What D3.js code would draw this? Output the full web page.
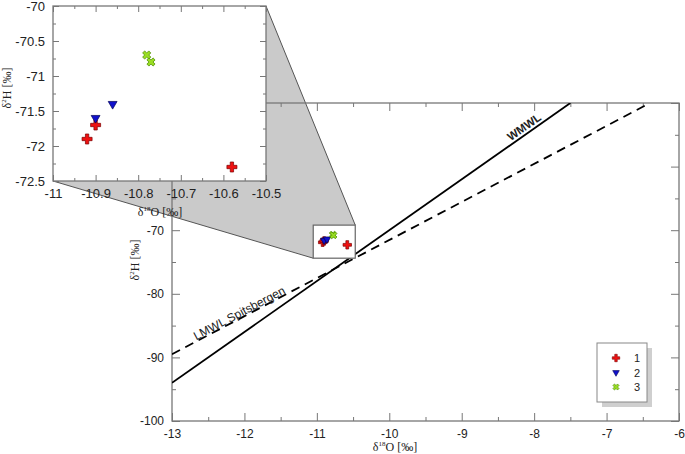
<!DOCTYPE html>
<html>
<head>
<meta charset="utf-8">
<script src="https://cdn.jsdelivr.net/npm/d3@7"></script>
<style>
body { margin: 0; background: #fff; }
text { font-family: Arial, "Liberation Sans", sans-serif; fill: #222; }
.ttl { font-family: "Times New Roman", "Liberation Serif", serif; }
</style>
</head>
<body>
<div id="vis"></div>
<script>
// sample groups
var grp1X = [-10.92, -10.90, -10.58];
var grp1Y = [-71.9, -71.7, -72.3];
var grp2X = [-10.90, -10.86];
var grp2Y = [-71.6, -71.4];
var grp3X = [-10.78, -10.77];
var grp3Y = [-70.7, -70.8];
var groupNames = ["1", "2", "3"];

// meteoric water lines (end points)
var wmwlX = [-13, -7.5];
var wmwlY = [-94, -50];
var lmwlX = [-13, -6.4];
var lmwlY = [-89.5, -50];

// tick labels
var mainXTicks = [-13, -12, -11, -10, -9, -8, -7, -6];
var mainYTicks = [-100, -90, -80, -70, -60, -50];
var insetXTicks = [-11, -10.9, -10.8, -10.7, -10.6, -10.5];
var insetYTicks = [-72.5, -72, -71.5, -71, -70.5, -70];

// zoomed window drawn in the main plot
var boxX = [-11.05, -10.47];
var boxY = [-74.4, -69.2];

var W = 685, H = 454;

var x = d3.scaleLinear().domain([-13, -6]).range([172, 679]);
var y = d3.scaleLinear().domain([-100, -50]).range([421, 103]);
var ix = d3.scaleLinear().domain([-11, -10.5]).range([53, 266]);
var iy = d3.scaleLinear().domain([-72.5, -70]).range([181, 6]);

var svg = d3.select("#vis").append("svg")
	.attr("width", W)
	.attr("height", H);

function zip(xs, ys) {
	return xs.map(function(v, i) { return [v, ys[i]]; });
}

// draws ticks on all four sides, pointing inward
function frame(g, sx, sy, xMaj, xMin, yMaj, yMin, big, small, fmt, fs) {
	var x0 = sx.range()[0], x1 = sx.range()[1];
	var y0 = sy.range()[0], y1 = sy.range()[1];
	var sides = [
		[d3.axisBottom(sx), "translate(0," + y0 + ")", xMaj, xMin, true],
		[d3.axisTop(sx), "translate(0," + y1 + ")", xMaj, xMin, false],
		[d3.axisLeft(sy), "translate(" + x0 + ",0)", yMaj, yMin, true],
		[d3.axisRight(sy), "translate(" + x1 + ",0)", yMaj, yMin, false]
	];
	sides.forEach(function(s) {
		var minor = g.append("g").attr("transform", s[1])
			.call(s[0].tickValues(s[3]).tickSizeInner(-small).tickSizeOuter(0).tickFormat(""));
		minor.select(".domain").remove();
		minor.selectAll("line").attr("stroke", "#777");
		var major = g.append("g").attr("transform", s[1])
			.call(s[0].tickValues(s[2]).tickSizeInner(-big).tickSizeOuter(0).tickPadding(8)
				.tickFormat(s[4] ? fmt : ""));
		major.select(".domain").remove();
		major.selectAll("line").attr("stroke", "#777");
		major.selectAll("text").attr("font-size", fs).attr("fill", "#222")
			.attr("font-family", "Arial, 'Liberation Sans', sans-serif");
	});
	g.append("rect")
		.attr("x", x0).attr("y", y1)
		.attr("width", x1 - x0).attr("height", y0 - y1)
		.attr("fill", "none").attr("stroke", "#777").attr("stroke-width", 1.3);
}

function halves(lo, hi, step) {
	return d3.range(lo, hi + step / 2, step);
}

var fmt = function(d) { return String(d); };

// grey connector between zoom window and inset
var conn = [
	[ix(-10.5), iy(-70)],
	[x(boxX[1]), y(boxY[1])],
	[x(boxX[1]), y(boxY[0])],
	[x(boxX[0]), y(boxY[0])],
	[ix(-11), iy(-72.5)],
	[ix(-10.5), iy(-72.5)]
];
svg.append("path")
	.attr("d", "M" + conn.join("L") + "Z")
	.attr("fill", "#cacaca");
svg.append("line")
	.attr("x1", conn[0][0]).attr("y1", conn[0][1])
	.attr("x2", conn[1][0]).attr("y2", conn[1][1])
	.attr("stroke", "#555");
svg.append("line")
	.attr("x1", conn[3][0]).attr("y1", conn[3][1])
	.attr("x2", conn[4][0]).attr("y2", conn[4][1])
	.attr("stroke", "#555");

// main plot
var main = svg.append("g");
frame(main, x, y, mainXTicks, halves(-12.5, -6.5, 1), mainYTicks, halves(-95, -55, 10), 8, 4, fmt, 12);

svg.append("clipPath").attr("id", "clip")
	.append("rect").attr("x", 172).attr("y", 103).attr("width", 507).attr("height", 318);

var line = d3.line()
	.x(function(d) { return x(d[0]); })
	.y(function(d) { return y(d[1]); });

svg.append("path")
	.datum(zip(wmwlX, wmwlY))
	.attr("clip-path", "url(#clip)")
	.attr("d", line)
	.attr("fill", "none").attr("stroke", "#000").attr("stroke-width", 1.8);

svg.append("path")
	.datum(zip(lmwlX, lmwlY))
	.attr("clip-path", "url(#clip)")
	.attr("d", line)
	.attr("fill", "none").attr("stroke", "#000").attr("stroke-width", 1.8)
	.attr("stroke-dasharray", "9,6");

// line labels, rotated along the lines
function lineLabel(xs, ys, at, txt, dy, bold, fs) {
	var k = (ys[1] - ys[0]) / (xs[1] - xs[0]);
	var yv = ys[0] + k * (at - xs[0]);
	var ang = Math.atan2(y(ys[1]) - y(ys[0]), x(xs[1]) - x(xs[0])) * 180 / Math.PI;
	svg.append("text")
		.attr("transform", "translate(" + x(at) + "," + y(yv) + ") rotate(" + ang + ")")
		.attr("dy", dy)
		.attr("font-size", fs)
		.attr("font-weight", bold ? "bold" : "normal")
		.attr("fill", "#111")
		.text(txt);
}
lineLabel(wmwlX, wmwlY, -8.3, "WMWL", -3, true, 11.5);
lineLabel(lmwlX, lmwlY, -12.66, "LMWL Spitsbergen", -1, false, 12);

// zoom window
svg.append("rect")
	.attr("x", x(boxX[0])).attr("y", y(boxY[1]))
	.attr("width", x(boxX[1]) - x(boxX[0]))
	.attr("height", y(boxY[0]) - y(boxY[1]))
	.attr("fill", "#fff").attr("stroke", "#666").attr("stroke-width", 1.2);

// marker styles
var styles = [
	{ type: d3.symbolCross, rot: 0, fill: "#ee1111", stroke: "#7a0000", size: 56 },
	{ type: d3.symbolTriangle, rot: 180, fill: "#1111cc", stroke: "#000055", size: 34 },
	{ type: d3.symbolCross, rot: 45, fill: "#99dd22", stroke: "#4a8a00", size: 42 }
];
var groups = [zip(grp1X, grp1Y), zip(grp2X, grp2Y), zip(grp3X, grp3Y)];

function drawPoints(g, sx, sy, scale) {
	groups.forEach(function(pts, i) {
		var st = styles[i];
		g.selectAll(null).data(pts).enter().append("path")
			.attr("d", d3.symbol().type(st.type).size(st.size * scale))
			.attr("transform", function(d) {
				return "translate(" + sx(d[0]) + "," + sy(d[1]) + ") rotate(" + st.rot + ")";
			})
			.attr("fill", st.fill).attr("stroke", st.stroke).attr("stroke-width", 0.7);
	});
}
drawPoints(svg.append("g"), x, y, 0.7);

// axis titles, main
var xt = svg.append("text").attr("class", "ttl")
	.attr("x", 395).attr("y", 451).attr("text-anchor", "middle").attr("font-size", 12);
xt.append("tspan").text("δ");
xt.append("tspan").attr("font-size", 7).attr("dy", -5).text("18");
xt.append("tspan").attr("dy", 5).text("O [‰]");

var yt = svg.append("text").attr("class", "ttl")
	.attr("transform", "translate(139,260) rotate(-90)")
	.attr("text-anchor", "middle").attr("font-size", 12);
yt.append("tspan").text("δ");
yt.append("tspan").attr("font-size", 7).attr("dy", -5).text("2");
yt.append("tspan").attr("dy", 5).text("H [‰]");

// legend
var lg = svg.append("g");
lg.append("rect").attr("x", 602).attr("y", 348).attr("width", 50).attr("height", 59).attr("fill", "#cfcfcf");
lg.append("rect").attr("x", 597).attr("y", 343).attr("width", 50).attr("height", 59)
	.attr("fill", "#fff").attr("stroke", "#888");
groupNames.forEach(function(n, i) {
	var st = styles[i];
	var yy = 358 + i * 14.5;
	lg.append("path")
		.attr("d", d3.symbol().type(st.type).size(st.size * 0.55))
		.attr("transform", "translate(616," + yy + ") rotate(" + st.rot + ")")
		.attr("fill", st.fill).attr("stroke", st.stroke).attr("stroke-width", 0.6);
	lg.append("text").attr("x", 634).attr("y", yy + 4).attr("font-size", 11).text(n);
});

// inset
var inset = svg.append("g");
inset.append("rect").attr("x", 53).attr("y", 6).attr("width", 213).attr("height", 175).attr("fill", "#fff");
frame(inset, ix, iy, insetXTicks, halves(-10.95, -10.55, 0.1), insetYTicks, halves(-72.25, -70.25, 0.5), 6, 3, fmt, 13);
drawPoints(inset, ix, iy, 1);

var ixt = svg.append("text").attr("class", "ttl")
	.attr("x", 160).attr("y", 216).attr("text-anchor", "middle").attr("font-size", 12);
ixt.append("tspan").text("δ");
ixt.append("tspan").attr("font-size", 7).attr("dy", -5).text("18");
ixt.append("tspan").attr("dy", 5).text("O [‰]");

var iyt = svg.append("text").attr("class", "ttl")
	.attr("transform", "translate(11,88) rotate(-90)")
	.attr("text-anchor", "middle").attr("font-size", 12);
iyt.append("tspan").text("δ");
iyt.append("tspan").attr("font-size", 7).attr("dy", -5).text("2");
iyt.append("tspan").attr("dy", 5).text("H [‰]");
</script>
</body>
</html>
